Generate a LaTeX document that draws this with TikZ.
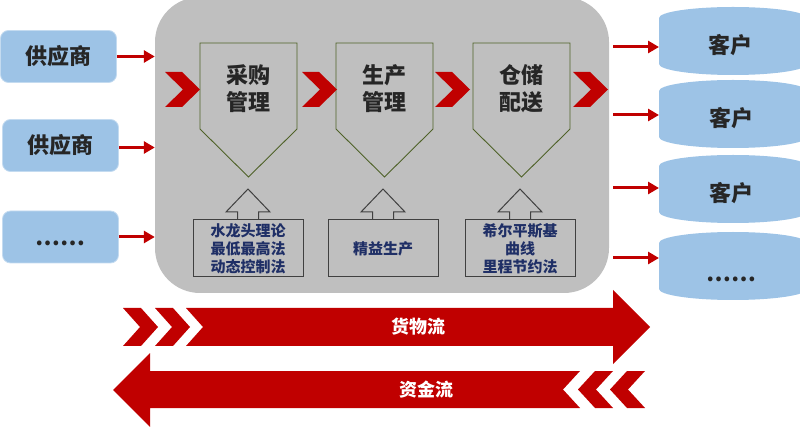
\documentclass[tikz,border=0pt]{standalone}
\usepackage{fontspec}
\newfontfamily\cjk{Noto Sans CJK SC}
\usetikzlibrary{arrows.meta}
\definecolor{myred}{HTML}{C00000}
\definecolor{bgray}{HTML}{BFBFBF}
\definecolor{lblue}{HTML}{9DC3E6}
\definecolor{navy}{HTML}{1F2F66}
\definecolor{olive}{HTML}{4F6228}
\definecolor{txt}{HTML}{262626}
\definecolor{boxline}{HTML}{404040}
\begin{document}
\begin{tikzpicture}[x=1pt,y=-1pt,
  redarr/.style={draw=myred, line width=3pt, -{Triangle[length=11pt,width=12pt]}},
  supbox/.style={fill=lblue, draw=lblue!60!white, line width=0.8pt, rounded corners=8pt, minimum width=116pt, minimum height=52pt, inner sep=0pt, font=\cjk\bfseries\fontsize{22}{26}\selectfont, text=txt},
  bigtext/.style={font=\cjk\bfseries\fontsize{22}{27}\selectfont, text=txt, align=center, inner sep=0pt},
  cylfill/.style={fill=lblue},
  procline/.style={draw=olive, line width=0.9pt},
  method/.style={draw=boxline, line width=1pt, minimum width=110pt, minimum height=57pt, inner sep=0pt, font=\cjk\bfseries\fontsize{15}{18}\selectfont, text=navy, align=center},
  uparr/.style={fill=bgray, draw=boxline, line width=1pt},
  redfill/.style={fill=myred},
  flowtext/.style={font=\cjk\bfseries\fontsize{18}{20}\selectfont, text=white, inner sep=0pt}
]
\useasboundingbox (0,0) rectangle (800,427);
\clip (0,0) rectangle (800,427);

% background panel
\node[fill=bgray, rounded corners=45pt, minimum width=454pt, minimum height=296pt, inner sep=0pt] (bg) at (382,145) {};

% suppliers
\node[supbox] (s1) at (58.5,56.5) {供应商};
\node[supbox] (s2) at (60.5,145.5) {供应商};
\node[supbox] (s3) at (60.5,237) {};
\node[bigtext] (s3t) at (60.5,243) {……};
\draw[redarr] (s1.east) -- (s1.east -| bg.west);
\draw[redarr] ([yshift=-2pt]s2.east) -- ([yshift=-2pt]s2.east -| bg.west);
\draw[redarr] (s3.east) -- (s3.east -| bg.west);

% process pentagons
\foreach \x in {200,336,473}{
  \draw[procline] (\x,43) -- (\x+97,43) -- (\x+97,129) -- (\x+48.5,177) -- (\x,129) -- cycle;
}
\node[bigtext] (p1) at (248.5,88.5) {采购\\管理};
\node[bigtext] (p2) at (384.5,88.5) {生产\\管理};
\node[bigtext] (p3) at (521.5,88.5) {仓储\\配送};

% chevrons inside panel
\foreach \x in {165,302,435,573}{
  \fill[redfill] (\x,72) -- (\x+17,72) -- (\x+35,89.5) -- (\x+17,107) -- (\x,107) -- (\x+18,89.5) -- cycle;
}

% method boxes with up arrows
\foreach \cx in {248,383,520}{
  \filldraw[uparr] (\cx-10.5,220) -- (\cx-10.5,212) -- (\cx-22,212) -- (\cx,189) -- (\cx+22,212) -- (\cx+10.5,212) -- (\cx+10.5,220);
}
\node[method] (m1) at (248,248.5) {水龙头理论\\最低最高法\\动态控制法};
\node[method] (m2) at (383,248.5) {精益生产};
\node[method] (m3) at (520,248.5) {希尔平斯基\\曲线\\里程节约法};

% customers
\foreach \t/\b in {18/64, 91/137, 166/212, 243/289}{
  \fill[cylfill] (659,\t) arc[start angle=180,end angle=360,x radius=74,y radius=11]
    -- (807,\b) arc[start angle=0,end angle=180,x radius=74,y radius=11] -- cycle;
}
\node[bigtext] (c1) at (730,45) {客户};
\node[bigtext] (c2) at (731,118) {客户};
\node[bigtext] (c3) at (731,193) {客户};
\node[bigtext] (c4) at (731,279) {……};
\coordinate (e1) at (659,47);
\coordinate (e2) at (659,115);
\coordinate (e3) at (659,188);
\coordinate (e4) at (659,258);
\foreach \i in {1,2,3,4}{
  \draw[redarr] ([xshift=4pt]bg.east |- e\i) -- (e\i);
}

% goods flow arrow
\foreach \x in {123,155}{
  \fill[redfill] (\x,308) -- (\x+18,308) -- (\x+35,327) -- (\x+18,346) -- (\x,346) -- (\x+17,327) -- cycle;
}
\fill[redfill] (186,308) -- (613,308) -- (613,290) -- (650,327) -- (613,364) -- (613,346) -- (186,346) -- (203,327) -- cycle;
\node[flowtext] (f1) at (418,327) {货物流};

% money flow arrow
\fill[redfill] (580,371) -- (150,371) -- (150,353) -- (113,390) -- (150,427) -- (150,408) -- (580,408) -- (563,389.5) -- cycle;
\foreach \x in {613,645}{
  \fill[redfill] (\x,371) -- (\x-18,371) -- (\x-35,389.5) -- (\x-18,408) -- (\x,408) -- (\x-17,389.5) -- cycle;
}
\node[flowtext] (f2) at (426,390) {资金流};
\end{tikzpicture}
\end{document}
